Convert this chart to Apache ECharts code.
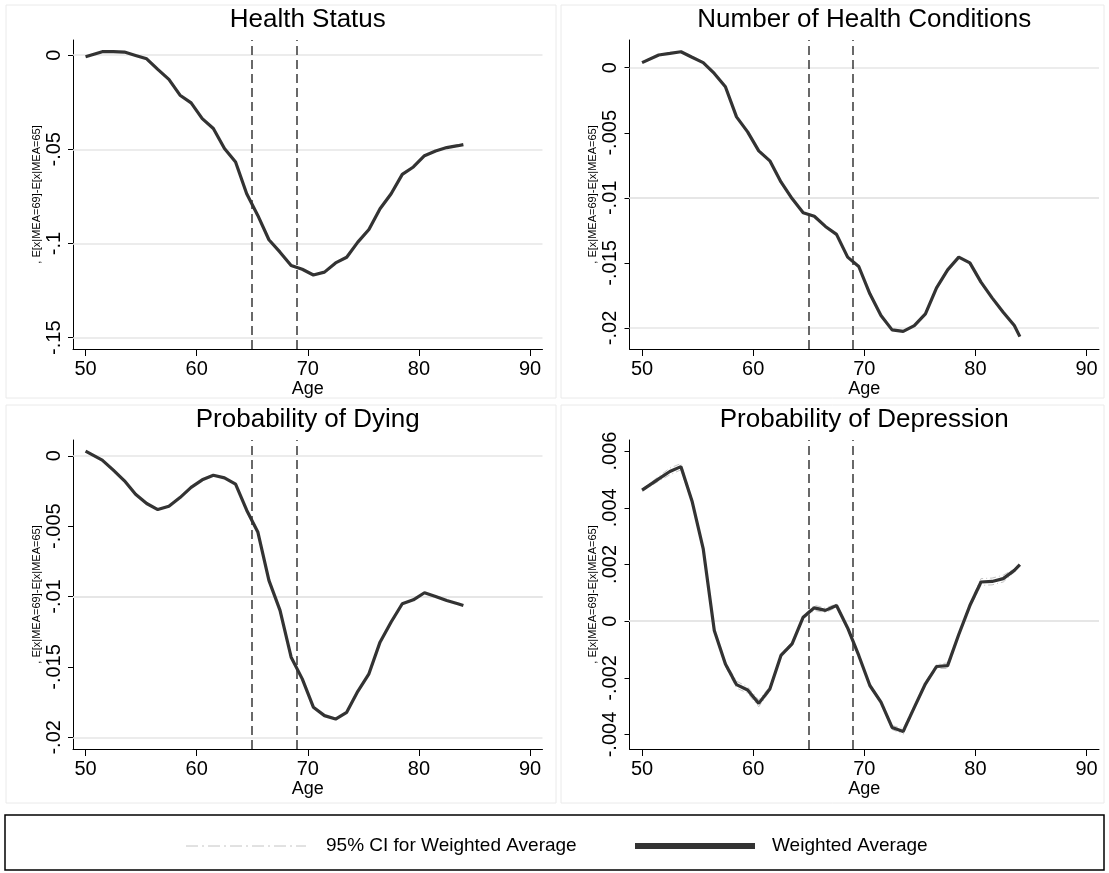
<!DOCTYPE html>
<html>
<head>
<meta charset="utf-8">
<script src="https://cdn.jsdelivr.net/npm/echarts@6/dist/echarts.min.js"></script>
<style>
html,body{margin:0;padding:0;background:#fff;}
#chart{width:1109px;height:873px;}
</style>
</head>
<body>
<div id="chart"></div>
<script>
// ---- Data ----
const ages = [50, 51.5, 52.5, 53.5, 54.5, 55.5, 56.5, 57.5, 58.5, 59.5, 60.5, 61.5, 62.5, 63.5, 64.5, 65.5, 66.5, 67.5, 68.5, 69.5, 70.5, 71.5, 72.5, 73.5, 74.5, 75.5, 76.5, 77.5, 78.5, 79.5, 80.5, 81.5, 82.5, 83.5, 84];

const healthStatus = [-0.0009, 0.0018, 0.0018, 0.0016, -0.0002, -0.0020, -0.0076, -0.0129, -0.0213, -0.0254, -0.0337, -0.0390, -0.0496, -0.0567, -0.0736, -0.0851, -0.0980, -0.1046, -0.1117, -0.1137, -0.1167, -0.1152, -0.1103, -0.1073, -0.0993, -0.0926, -0.0816, -0.0736, -0.0633, -0.0594, -0.0534, -0.0509, -0.0491, -0.0481, -0.0475];

const numConditions = [0.00039, 0.00098, 0.00110, 0.00123, 0.00080, 0.00039, -0.00044, -0.00146, -0.00378, -0.00493, -0.00639, -0.00716, -0.00878, -0.01006, -0.01114, -0.01142, -0.01220, -0.01281, -0.01456, -0.01528, -0.01738, -0.01905, -0.02015, -0.02026, -0.01982, -0.01892, -0.01692, -0.01554, -0.01456, -0.01500, -0.01648, -0.01769, -0.01879, -0.01982, -0.02067];

const probDying = [0.00033, -0.00031, -0.00102, -0.00178, -0.00273, -0.00339, -0.00382, -0.00358, -0.00297, -0.00225, -0.00171, -0.00138, -0.00157, -0.00202, -0.00387, -0.00541, -0.00885, -0.01098, -0.01431, -0.01585, -0.01786, -0.01846, -0.01870, -0.01822, -0.01673, -0.01549, -0.01324, -0.01181, -0.01051, -0.01023, -0.00973, -0.00999, -0.01028, -0.01051, -0.01063];

const probDepression = [0.00462, 0.00502, 0.00528, 0.00545, 0.00423, 0.00256, -0.00033, -0.00151, -0.00224, -0.00243, -0.00290, -0.00239, -0.00121, -0.00080, 0.00014, 0.00047, 0.00038, 0.00055, -0.00024, -0.00121, -0.00227, -0.00286, -0.00375, -0.00389, -0.00304, -0.00221, -0.00160, -0.00157, -0.00047, 0.00055, 0.00138, 0.00140, 0.00150, 0.00179, 0.00199];

const depressionCIHigh = [0.00466, 0.00510, 0.00540, 0.00556, 0.00430, 0.00262, -0.00027, -0.00143, -0.00212, -0.00232, -0.00278, -0.00231, -0.00115, -0.00074, 0.00020, 0.00056, 0.00046, 0.00061, -0.00019, -0.00116, -0.00222, -0.00281, -0.00368, -0.00379, -0.00298, -0.00215, -0.00153, -0.00147, -0.00041, 0.00061, 0.00150, 0.00152, 0.00162, 0.00185, 0.00203];

const depressionCILow = [0.00458, 0.00494, 0.00516, 0.00534, 0.00416, 0.00250, -0.00039, -0.00159, -0.00236, -0.00254, -0.00302, -0.00247, -0.00127, -0.00086, 0.00008, 0.00038, 0.00030, 0.00049, -0.00029, -0.00126, -0.00232, -0.00291, -0.00382, -0.00399, -0.00310, -0.00227, -0.00167, -0.00167, -0.00053, 0.00049, 0.00126, 0.00128, 0.00138, 0.00173, 0.00195];

const panelTitles = ['Health Status', 'Number of Health Conditions', 'Probability of Dying', 'Probability of Depression'];
const xTicks = [50, 60, 70, 80, 90];
const yTicks1 = [0, -0.05, -0.1, -0.15];
const yTicks2 = [0, -0.005, -0.01, -0.015, -0.02];
const yTicks3 = [0, -0.005, -0.01, -0.015, -0.02];
const yTicks4 = [0.006, 0.004, 0.002, 0, -0.002, -0.004];
const cutoffAges = [65, 69];
const yAxisName = ', E[x|MEA=69]-E[x|MEA=65]';
const xAxisName = 'Age';
const legendNames = ['95% CI for Weighted Average', 'Weighted Average'];

// ---- Layout ----
const FONT = 'Arial, "Liberation Sans", Helvetica, sans-serif';
const panels = [
  {left: 73,    top: 40,  yMin: -0.156,   yMax: 0.008,   ticks: yTicks1, values: healthStatus},
  {left: 629.5, top: 40,  yMin: -0.02162, yMax: 0.00213, ticks: yTicks2, values: numConditions},
  {left: 73,    top: 440, yMin: -0.02083, yMax: 0.00112, ticks: yTicks3, values: probDying},
  {left: 629.5, top: 440, yMin: -0.00451, yMax: 0.00639, ticks: yTicks4, values: probDepression,
   ciHigh: depressionCIHigh, ciLow: depressionCILow}
];
const PW = 469.5, PH = 309;
const X_MIN = 48.87, X_MAX = 91.12;

function fmtTick(v) {
  if (v === 0) return '0';
  return String(v).replace('0.', '.');
}
function pairs(xs, ys) { return xs.map((x, i) => [x, ys[i]]); }

const grids = [], xAxes = [], yAxes = [], series = [], titles = [];
panels.forEach((p, i) => {
  grids.push({left: p.left, top: p.top, width: PW, height: PH, containLabel: false});
  titles.push({
    text: panelTitles[i], left: p.left + PW / 2, top: p.top - 33, textAlign: 'center', padding: 0,
    textStyle: {fontFamily: FONT, fontSize: 26, fontWeight: 'normal', color: '#000'}
  });
  xAxes.push({
    type: 'value', gridIndex: i, min: X_MIN, max: X_MAX,
    name: xAxisName, nameLocation: 'middle', nameGap: 29,
    nameTextStyle: {fontFamily: FONT, fontSize: 18, color: '#000'},
    axisLine: {show: true, onZero: false, lineStyle: {color: '#000', width: 1}},
    axisTick: {show: true, inside: false, length: 7, customValues: xTicks, lineStyle: {color: '#000', width: 1}},
    axisLabel: {show: true, customValues: xTicks, margin: 10, fontFamily: FONT, fontSize: 20, color: '#000'},
    splitLine: {show: false}
  });
  yAxes.push({
    type: 'value', gridIndex: i, min: p.yMin, max: p.yMax,
    name: yAxisName, nameLocation: 'middle', nameGap: 31, nameRotate: 90,
    nameTextStyle: {fontFamily: FONT, fontSize: 11, color: '#000'},
    axisLine: {show: true, onZero: false, lineStyle: {color: '#000', width: 1}},
    axisTick: {show: true, inside: false, length: 5, customValues: p.ticks, lineStyle: {color: '#000', width: 1}},
    axisLabel: {show: true, customValues: p.ticks, rotate: 90, margin: 9, fontFamily: FONT, fontSize: 20, color: '#000',
      formatter: fmtTick},
    splitLine: {show: false}
  });
  // gridlines & cutoff lines
  series.push({
    type: 'line', xAxisIndex: i, yAxisIndex: i, data: [], silent: true, animation: false,
    markLine: {
      silent: true, animation: false, symbol: ['none', 'none'], z: 1,
      label: {show: false},
      data: p.ticks.map(t => ({yAxis: t, lineStyle: {color: '#e6e6e6', width: 1.5, type: 'solid'}}))
        .concat(cutoffAges.map(a => ({xAxis: a, lineStyle: {color: '#444', width: 1.6, type: [9, 5]}})))
    }
  });
  if (p.ciHigh) {
    [p.ciHigh, p.ciLow].forEach(arr => {
      series.push({
        name: legendNames[0], type: 'line', xAxisIndex: i, yAxisIndex: i, z: 2,
        data: pairs(ages, arr), showSymbol: false, animation: false,
        lineStyle: {color: '#c4c4c4', width: 1, type: [6, 3, 1, 3]}
      });
    });
  }
  series.push({
    name: legendNames[1], type: 'line', xAxisIndex: i, yAxisIndex: i, z: 3,
    data: pairs(ages, p.values), showSymbol: false, animation: false,
    lineStyle: {color: '#333333', width: 3.2}, lineJoin: 'round'
  });
});

// panel frames and legend
const graphic = [
  {type: 'rect', shape: {x: 6, y: 5, width: 550, height: 393}, style: {fill: 'none', stroke: '#eaeaea', lineWidth: 1}, z: -10},
  {type: 'rect', shape: {x: 561, y: 5, width: 543, height: 393}, style: {fill: 'none', stroke: '#eaeaea', lineWidth: 1}, z: -10},
  {type: 'rect', shape: {x: 6, y: 405, width: 550, height: 398}, style: {fill: 'none', stroke: '#eaeaea', lineWidth: 1}, z: -10},
  {type: 'rect', shape: {x: 561, y: 405, width: 543, height: 398}, style: {fill: 'none', stroke: '#eaeaea', lineWidth: 1}, z: -10},
  {type: 'rect', shape: {x: 5, y: 815, width: 1099, height: 55}, style: {fill: '#fff', stroke: '#000', lineWidth: 1.5}, z: -5},
  {type: 'line', shape: {x1: 186, y1: 846, x2: 306, y2: 846}, style: {stroke: '#c4c4c4', lineWidth: 1, lineDash: [12, 4, 2, 4]}},
  {type: 'text', x: 326, y: 846, style: {text: legendNames[0], font: '19px ' + FONT, fill: '#000', textVerticalAlign: 'middle', verticalAlign: 'middle'}},
  {type: 'line', shape: {x1: 635, y1: 846, x2: 755, y2: 846}, style: {stroke: '#333', lineWidth: 6}},
  {type: 'text', x: 772, y: 846, style: {text: legendNames[1], font: '19px ' + FONT, fill: '#000', textVerticalAlign: 'middle', verticalAlign: 'middle'}}
];

const chart = echarts.init(document.getElementById('chart'), null, {renderer: 'canvas'});
chart.setOption({
  backgroundColor: '#fff',
  animation: false,
  title: titles,
  grid: grids,
  xAxis: xAxes,
  yAxis: yAxes,
  series: series,
  graphic: graphic
});
</script>
</body>
</html>
